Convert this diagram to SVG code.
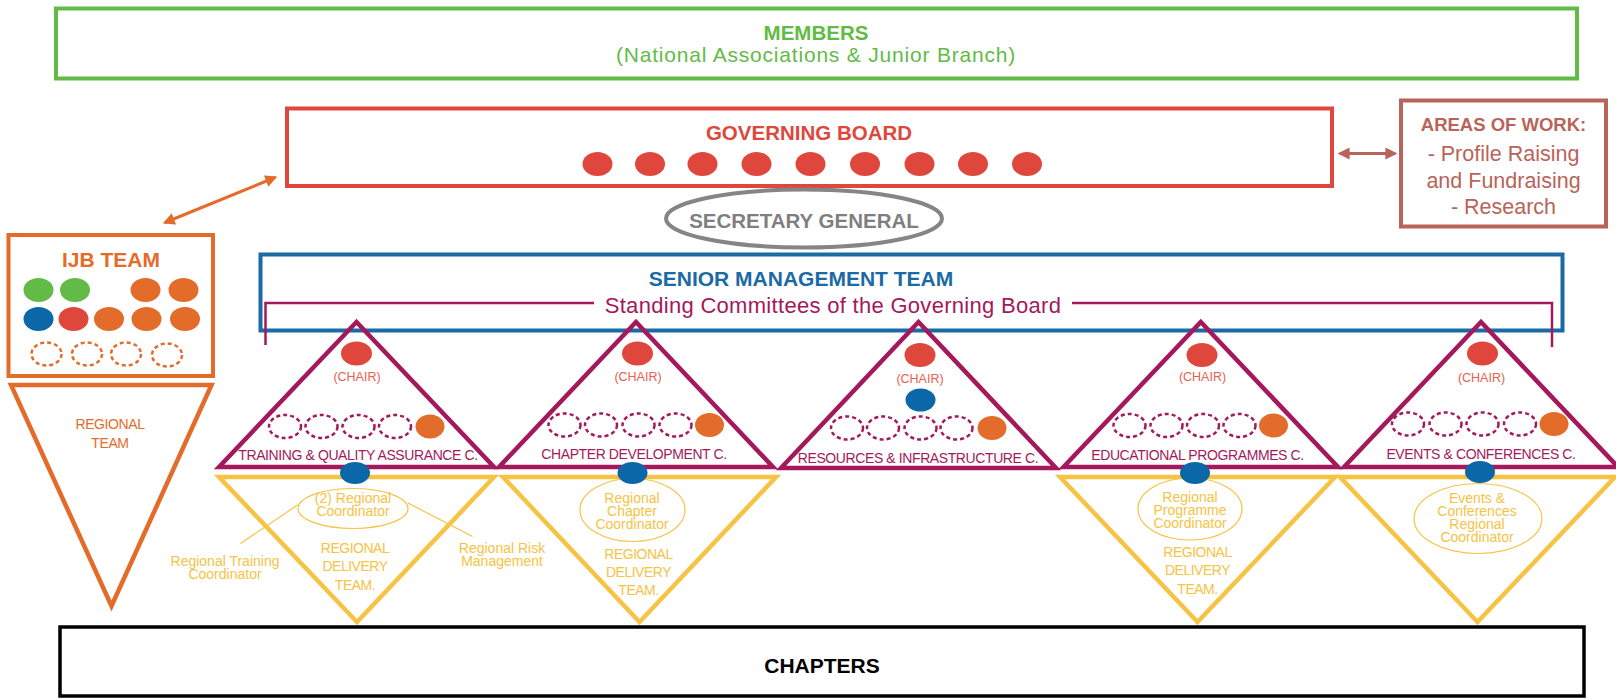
<svg xmlns="http://www.w3.org/2000/svg" width="1616" height="698" viewBox="0 0 1616 698">
<defs>
<style>
text{font-family:"Liberation Sans",Arial,sans-serif;text-anchor:middle}
.b{font-weight:bold}
.box{fill:none;stroke-width:4}
.mag{fill:none;stroke:#a3195b;stroke-width:4.5;stroke-linejoin:miter}
.yel{fill:none;stroke:#f6c344;stroke-width:4.5;stroke-linejoin:miter}
.dash{fill:none;stroke:#a3195b;stroke-width:2.5;stroke-dasharray:4 3}
.dasho{fill:none;stroke:#e46c2a;stroke-width:2.5;stroke-dasharray:4 3}
.red{fill:#e0473c}
.org{fill:#e46c2a}
.blu{fill:#0b67a7}
.grn{fill:#62bb46}
.chair{font-size:12.5px;fill:#e8604f}
.clab{font-size:14px;letter-spacing:-0.4px;fill:#a3195b}
.ytxt{font-size:14px;fill:#f6c344}
.ycap{font-size:14px;letter-spacing:-0.5px;fill:#f6c344}
.thin{fill:none;stroke:#f6c344;stroke-width:1.2}
</style>
<marker id="ao" viewBox="0 0 10 10" refX="8" refY="5" markerWidth="4" markerHeight="4" orient="auto-start-reverse"><path d="M0,0 L10,5 L0,10 z" fill="#e46c2a"/></marker>
<marker id="ab" viewBox="0 0 10 10" refX="8" refY="5" markerWidth="4" markerHeight="4" orient="auto-start-reverse"><path d="M0,0 L10,5 L0,10 z" fill="#b9645a"/></marker>
</defs>
<rect width="1616" height="698" fill="#fff"/>

<g id="members">
<rect class="box" x="56" y="8.5" width="1521" height="70" stroke="#62bb46"/>
<text x="816" y="39.5" class="b" font-size="20.5" fill="#62bb46">MEMBERS</text>
<text x="816" y="61.5" font-size="21" letter-spacing="0.8" fill="#62bb46">(National Associations &amp; Junior Branch)</text>
</g>

<g id="governing-board">
<rect class="box" x="287" y="108.5" width="1045" height="77.5" stroke="#e0473c"/>
<text x="809" y="140" class="b" font-size="20.5" fill="#e0473c">GOVERNING BOARD</text>
<ellipse class="red" cx="597.5" cy="164" rx="15" ry="12"/>
<ellipse class="red" cx="650" cy="164" rx="15" ry="12"/>
<ellipse class="red" cx="702.5" cy="164" rx="15" ry="12"/>
<ellipse class="red" cx="756.5" cy="164" rx="15" ry="12"/>
<ellipse class="red" cx="810.5" cy="164" rx="15" ry="12"/>
<ellipse class="red" cx="865" cy="164" rx="15" ry="12"/>
<ellipse class="red" cx="919.5" cy="164" rx="15" ry="12"/>
<ellipse class="red" cx="973" cy="164" rx="15" ry="12"/>
<ellipse class="red" cx="1027" cy="164" rx="15" ry="12"/>
</g>

<g id="secretary-general">
<ellipse cx="804" cy="218.5" rx="138" ry="29" fill="#fff" stroke="#858585" stroke-width="4"/>
<text x="804" y="228" class="b" font-size="20.5" fill="#7f7f7f">SECRETARY GENERAL</text>
</g>

<g id="areas-of-work">
<rect class="box" x="1401" y="100.5" width="205" height="126" stroke="#b9645a"/>
<text x="1503.5" y="131" class="b" font-size="18.5" fill="#b9645a">AREAS OF WORK:</text>
<text x="1503.5" y="160.5" font-size="21.5" fill="#b9645a">- Profile Raising</text>
<text x="1503.5" y="187.5" font-size="21.5" fill="#b9645a">and Fundraising</text>
<text x="1503.5" y="214" font-size="21.5" fill="#b9645a">- Research</text>
</g>

<g id="ijb-team">
<rect class="box" x="8.5" y="235" width="204.5" height="141" stroke="#e46c2a" stroke-width="4.5"/>
<text x="111" y="266.5" class="b" font-size="21" fill="#e46c2a">IJB TEAM</text>
<ellipse class="grn" cx="38.5" cy="290" rx="15" ry="12"/>
<ellipse class="grn" cx="75" cy="290" rx="15" ry="12"/>
<ellipse class="org" cx="145.5" cy="290" rx="15" ry="12"/>
<ellipse class="org" cx="183.5" cy="290" rx="15" ry="12"/>
<ellipse class="blu" cx="38.5" cy="319" rx="15" ry="12"/>
<ellipse class="red" cx="73.5" cy="319" rx="15" ry="12"/>
<ellipse class="org" cx="109" cy="319" rx="15" ry="12"/>
<ellipse class="org" cx="146.5" cy="319" rx="15" ry="12"/>
<ellipse class="org" cx="185" cy="319" rx="15" ry="12"/>
<ellipse class="dasho" cx="46.5" cy="354" rx="15" ry="11.5"/>
<ellipse class="dasho" cx="87" cy="354" rx="15" ry="11.5"/>
<ellipse class="dasho" cx="126" cy="354" rx="15" ry="11.5"/>
<ellipse class="dasho" cx="167" cy="355" rx="15" ry="11.5"/>
</g>

<g id="regional-team">
<polygon points="11,385 211.5,385 111.5,606" fill="none" stroke="#e46c2a" stroke-width="4.5"/>
<text x="110" y="429" font-size="14" letter-spacing="-0.4" fill="#e46c2a">REGIONAL</text>
<text x="110" y="448" font-size="14" letter-spacing="-0.4" fill="#e46c2a">TEAM</text>
</g>

<g id="senior-management-team">
<rect class="box" x="260.5" y="254.5" width="1302" height="76" stroke="#1a6aa6"/>
<text x="801" y="286" class="b" font-size="21" fill="#1a6aa6">SENIOR MANAGEMENT TEAM</text>
</g>

<g id="standing-committees">
<path d="M265.5,345 V303 H594 M1072,303 H1552 V347" fill="none" stroke="#a3195b" stroke-width="2.5"/>
<text x="833" y="312.5" font-size="22" letter-spacing="0.3" fill="#a3195b">Standing Committees of the Governing Board</text>
</g>

<g id="chapters">
<rect x="60" y="627" width="1524" height="69" fill="none" stroke="#000" stroke-width="3.5"/>
<text x="822" y="672.5" class="b" font-size="21" fill="#000">CHAPTERS</text>
</g>

<g id="delivery-training">
<polygon class="yel" points="219,477 494,477 357,622"/>
<ellipse class="thin" cx="353" cy="508.5" rx="55" ry="20"/>
<text x="353" y="502.5" class="ytxt">(2) Regional</text>
<text x="353" y="515.5" class="ytxt">Coordinator</text>
<text x="355" y="552.5" class="ycap">REGIONAL</text>
<text x="355" y="571" class="ycap">DELIVERY</text>
<text x="355" y="589.5" class="ycap">TEAM.</text>
<text x="225" y="566" class="ytxt">Regional Training</text>
<text x="225" y="579" class="ytxt">Coordinator</text>
<text x="502" y="552.5" class="ytxt">Regional Risk</text>
<text x="502" y="565.5" class="ytxt">Management</text>
</g>

<g id="delivery-chapter">
<polygon class="yel" points="503,477 776,477 639.5,622"/>
<ellipse class="thin" cx="632.5" cy="510" rx="52.5" ry="31.5"/>
<text x="632" y="503" class="ytxt">Regional</text>
<text x="632" y="516" class="ytxt">Chapter</text>
<text x="632" y="529" class="ytxt">Coordinator</text>
<text x="638.5" y="558.5" class="ycap">REGIONAL</text>
<text x="638.5" y="577" class="ycap">DELIVERY</text>
<text x="638.5" y="595" class="ycap">TEAM.</text>
</g>

<g id="delivery-education">
<polygon class="yel" points="1060,477 1335,477 1197.5,622"/>
<ellipse class="thin" cx="1190" cy="509" rx="52" ry="31"/>
<text x="1190" y="501.5" class="ytxt">Regional</text>
<text x="1190" y="514.5" class="ytxt">Programme</text>
<text x="1190" y="527.5" class="ytxt">Coordinator</text>
<text x="1197.5" y="557" class="ycap">REGIONAL</text>
<text x="1197.5" y="575" class="ycap">DELIVERY</text>
<text x="1197.5" y="593.5" class="ycap">TEAM.</text>
</g>

<g id="delivery-events">
<polygon class="yel" points="1340,477 1615,477 1477.5,622"/>
<ellipse class="thin" cx="1478" cy="518.5" rx="64" ry="35"/>
<text x="1477" y="503" class="ytxt">Events &amp;</text>
<text x="1477" y="516" class="ytxt">Conferences</text>
<text x="1477" y="529" class="ytxt">Regional</text>
<text x="1477" y="542" class="ytxt">Coordinator</text>
</g>

<g id="committee-training">
<polygon class="mag" points="219,467 356.5,322 494,467"/>
<ellipse class="red" cx="356.5" cy="353.5" rx="15.5" ry="12"/>
<text x="357" y="381" class="chair">(CHAIR)</text>
<ellipse class="dash" cx="285" cy="426.5" rx="16" ry="11.5"/>
<ellipse class="dash" cx="321.5" cy="426.5" rx="16" ry="11.5"/>
<ellipse class="dash" cx="358.5" cy="426.5" rx="16" ry="11.5"/>
<ellipse class="dash" cx="395" cy="426.5" rx="16" ry="11.5"/>
<ellipse class="org" cx="430" cy="426.5" rx="14.5" ry="12"/>
<text x="358" y="460" class="clab">TRAINING &amp; QUALITY ASSURANCE C.</text>
<ellipse class="blu" cx="355" cy="473" rx="15" ry="11"/>
</g>

<g id="committee-chapter">
<polygon class="mag" points="499,467 636,322 773,467"/>
<ellipse class="red" cx="637.5" cy="353.5" rx="15.5" ry="12"/>
<text x="638" y="381" class="chair">(CHAIR)</text>
<ellipse class="dash" cx="564.5" cy="425" rx="16" ry="11.5"/>
<ellipse class="dash" cx="601" cy="425" rx="16" ry="11.5"/>
<ellipse class="dash" cx="638.5" cy="425" rx="16" ry="11.5"/>
<ellipse class="dash" cx="675.5" cy="425" rx="16" ry="11.5"/>
<ellipse class="org" cx="709.5" cy="425" rx="14.5" ry="12"/>
<text x="634" y="459" class="clab">CHAPTER DEVELOPMENT C.</text>
<ellipse class="blu" cx="632.5" cy="473" rx="15" ry="11"/>
</g>

<g id="committee-resources">
<polygon class="mag" points="781,468 918.5,322 1056,468"/>
<ellipse class="red" cx="920" cy="355" rx="15.5" ry="12"/>
<text x="920" y="382.5" class="chair">(CHAIR)</text>
<ellipse class="blu" cx="920.5" cy="400" rx="15" ry="11.5"/>
<ellipse class="dash" cx="847" cy="428" rx="16" ry="11.5"/>
<ellipse class="dash" cx="883" cy="428" rx="16" ry="11.5"/>
<ellipse class="dash" cx="920.5" cy="428" rx="16" ry="11.5"/>
<ellipse class="dash" cx="956.5" cy="428" rx="16" ry="11.5"/>
<ellipse class="org" cx="992" cy="428" rx="14.5" ry="12"/>
<text x="918" y="463" class="clab">RESOURCES &amp; INFRASTRUCTURE C.</text>
</g>

<g id="committee-education">
<polygon class="mag" points="1063.5,467 1200.8,322 1338,467"/>
<ellipse class="red" cx="1202" cy="355" rx="15.5" ry="12"/>
<text x="1202.5" y="381" class="chair">(CHAIR)</text>
<ellipse class="dash" cx="1129.5" cy="425.5" rx="16" ry="11.5"/>
<ellipse class="dash" cx="1166.5" cy="425.5" rx="16" ry="11.5"/>
<ellipse class="dash" cx="1203" cy="425.5" rx="16" ry="11.5"/>
<ellipse class="dash" cx="1239.5" cy="425.5" rx="16" ry="11.5"/>
<ellipse class="org" cx="1273.5" cy="425.5" rx="14.5" ry="12"/>
<text x="1197.5" y="460" class="clab">EDUCATIONAL PROGRAMMES C.</text>
<ellipse class="blu" cx="1195" cy="473" rx="15" ry="11"/>
</g>

<g id="committee-events">
<polygon class="mag" points="1344,467 1481,322 1618,467"/>
<ellipse class="red" cx="1482.5" cy="353.5" rx="15.5" ry="12"/>
<text x="1481.5" y="381.5" class="chair">(CHAIR)</text>
<ellipse class="dash" cx="1408" cy="424" rx="16" ry="11.5"/>
<ellipse class="dash" cx="1445.5" cy="424" rx="16" ry="11.5"/>
<ellipse class="dash" cx="1482.5" cy="424" rx="16" ry="11.5"/>
<ellipse class="dash" cx="1520" cy="424" rx="16" ry="11.5"/>
<ellipse class="org" cx="1554" cy="424" rx="14.5" ry="12"/>
<text x="1481" y="458.5" class="clab">EVENTS &amp; CONFERENCES C.</text>
<ellipse class="blu" cx="1480" cy="472" rx="15" ry="11"/>
</g>

<g id="connectors">
<line x1="165" y1="222.5" x2="275" y2="177.5" stroke="#e46c2a" stroke-width="3" marker-start="url(#ao)" marker-end="url(#ao)"/>
<line x1="1340" y1="153.5" x2="1395" y2="153.5" stroke="#b9645a" stroke-width="3" marker-start="url(#ab)" marker-end="url(#ab)"/>
<line x1="297.5" y1="505" x2="240.5" y2="543.5" stroke="#f6c344" stroke-width="1.2"/>
<line x1="408" y1="503" x2="472.5" y2="536.5" stroke="#f6c344" stroke-width="1.2"/>
</g>
</svg>
